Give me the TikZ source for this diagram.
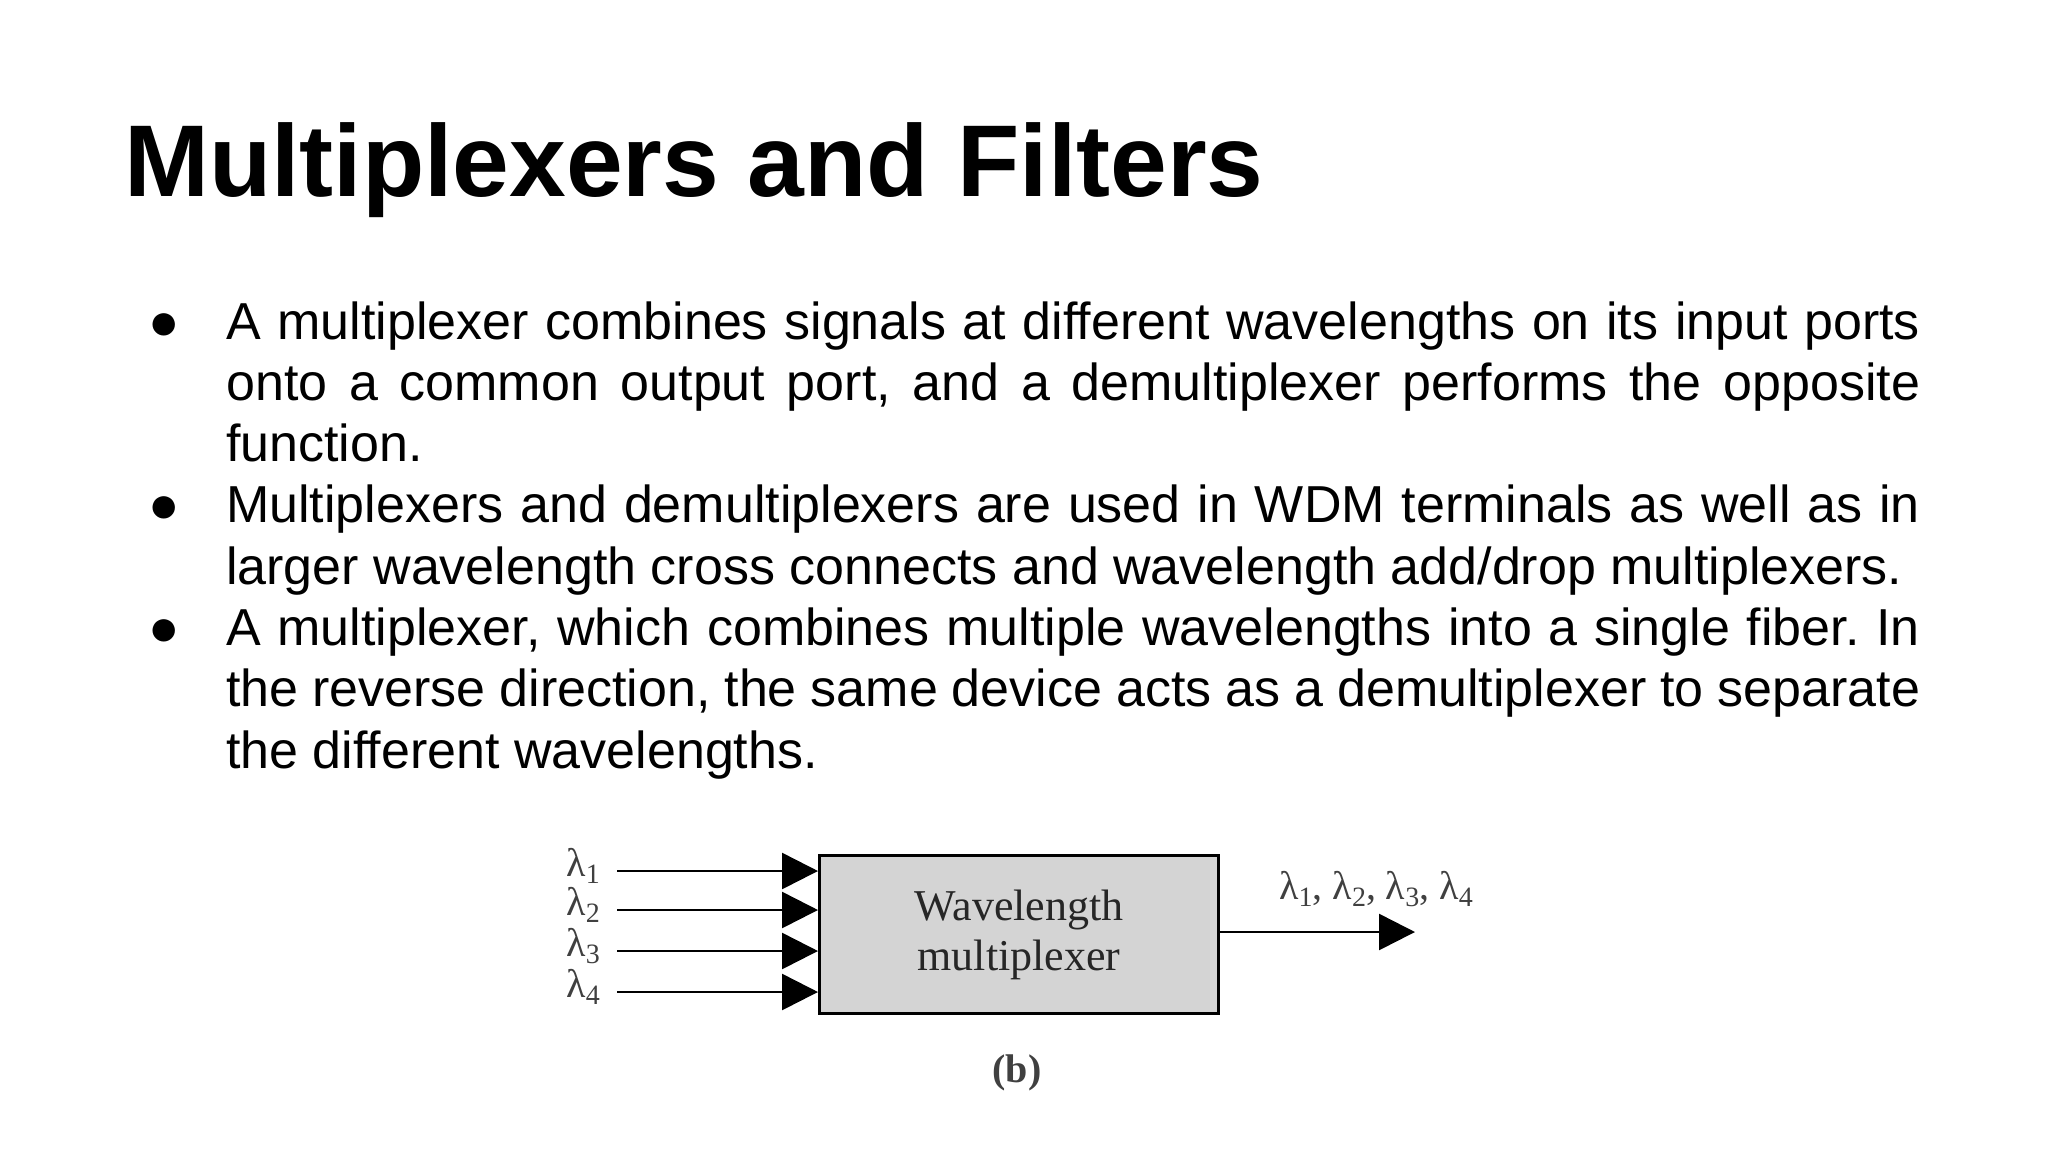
\documentclass[tikz,border=0pt]{standalone}
\usepackage{fontspec}
\setmainfont{Liberation Sans}
\newfontfamily\serif{Liberation Serif}
\usetikzlibrary{arrows.meta}
\frenchspacing
\newcommand{\lam}[1]{λ\raisebox{-0.35ex}{\fontsize{28}{28}\selectfont #1}}
\newcommand{\bul}{\noindent\hangindent=63pt\hangafter=1\makebox[63pt][l]{\hspace*{-15pt}●}}
\begin{document}
\begin{tikzpicture}[x=1pt,y=-1pt,
  para/.style={anchor=base west,inner sep=0pt,text width=1757pt,align=justify,font=\fontsize{52}{61.3}\selectfont},
  inarrow/.style={line width=2.6pt,-{Triangle[length=36pt,width=36pt]}},
  lab/.style={inner sep=0pt,font=\serif\fontsize{40}{40}\selectfont,text=black!75}]
\useasboundingbox (0,0) rectangle (2048,1152);
\node[anchor=base west,inner sep=0pt,font=\bfseries\fontsize{102}{102}\selectfont] (title) at (124,196) {Multiplexers and Filters};
\node[para] (p) at (163,339) {\bul A multiplexer combines signals at different wavelengths on its input ports onto a common output port, and a demultiplexer performs the opposite function.\par
\bul Multiplexers and demultiplexers are used in WDM terminals as well as in larger wavelength cross connects and wavelength add/drop multiplexers.\par
\bul A multiplexer, which combines multiple wavelengths into a single fiber. In the reverse direction, the same device acts as a demultiplexer to separate the different wavelengths.\par};
\node[draw,line width=3pt,fill=black!17,minimum width=399pt,minimum height=158pt,anchor=north west,inner sep=0pt,font=\serif\fontsize{44}{50}\selectfont,align=center,text=black!85] (box) at (818,854) {Wavelength\\multiplexer};
\foreach \i/\y in {1/871,2/910,3/951,4/992}{
  \coordinate (s\i) at (617,\y);
  \draw[inarrow] (s\i) -- (s\i -| box.west);
  \node[lab,anchor=east] (l\i) at (600,\y-5) {\lam{\i}};
}
\coordinate (out) at (1415,932);
\draw[inarrow] (box.east |- out) -- (out);
\node[lab] (ol) at (1376,889) {\lam{1}, \lam{2}, \lam{3}, \lam{4}};
\node[lab,font=\serif\bfseries\fontsize{40}{40}\selectfont] (b) at (1017,1073) {(b)};
\end{tikzpicture}
\end{document}
